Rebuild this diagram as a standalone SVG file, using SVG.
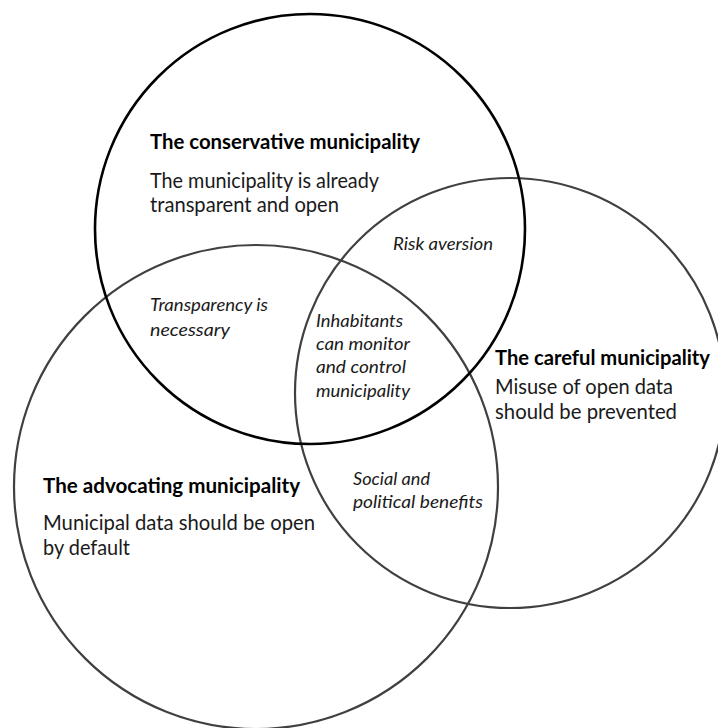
<svg xmlns="http://www.w3.org/2000/svg" width="718" height="728" viewBox="0 0 718 728">
<style>
.c{fill:none;stroke:#404040;stroke-width:2.2}
.ct{fill:none;stroke:#000;stroke-width:2.6}
.b{font-family:Lato,"Open Sans","Liberation Sans",sans-serif;font-weight:700;font-size:20px;fill:#000}
.n{font-family:Lato,"Open Sans","Liberation Sans",sans-serif;font-weight:400;font-size:21px;fill:#1a1a1a}
.i{font-family:Lato,"Open Sans","Liberation Sans",sans-serif;font-style:italic;font-size:18px;fill:#1a1a1a}
</style>
<rect width="718" height="728" fill="#fff"/>
<g id="circles">
<circle id="left-circle" class="c" cx="256" cy="487" r="242"/>
<circle id="right-circle" class="c" cx="510" cy="393" r="215"/>
<circle id="top-circle" class="ct" cx="310" cy="229" r="215"/>
</g>
<g id="conservative">
<text class="b" x="150" y="149" textLength="270" lengthAdjust="spacingAndGlyphs">The conservative municipality</text>
<text class="n" x="150" y="188" textLength="229" lengthAdjust="spacingAndGlyphs">The municipality is already</text>
<text class="n" x="150" y="212" textLength="189" lengthAdjust="spacingAndGlyphs">transparent and open</text>
</g>
<g id="careful">
<text class="b" x="495" y="365" textLength="215" lengthAdjust="spacingAndGlyphs">The careful municipality</text>
<text class="n" x="495" y="394" textLength="178" lengthAdjust="spacingAndGlyphs">Misuse of open data</text>
<text class="n" x="495" y="419" textLength="182" lengthAdjust="spacingAndGlyphs">should be prevented</text>
</g>
<g id="advocating">
<text class="b" x="43" y="493" textLength="257" lengthAdjust="spacingAndGlyphs">The advocating municipality</text>
<text class="n" x="43" y="530" textLength="272" lengthAdjust="spacingAndGlyphs">Municipal data should be open</text>
<text class="n" x="43" y="555" textLength="87" lengthAdjust="spacingAndGlyphs">by default</text>
</g>
<g id="risk">
<text class="i" x="393" y="250" textLength="100" lengthAdjust="spacingAndGlyphs">Risk aversion</text>
</g>
<g id="transparency">
<text class="i" x="150" y="311" textLength="118" lengthAdjust="spacingAndGlyphs">Transparency is</text>
<text class="i" x="150" y="336" textLength="80" lengthAdjust="spacingAndGlyphs">necessary</text>
</g>
<g id="inhabitants">
<text class="i" x="316" y="327" textLength="87" lengthAdjust="spacingAndGlyphs">Inhabitants</text>
<text class="i" x="316" y="350" textLength="94" lengthAdjust="spacingAndGlyphs">can monitor</text>
<text class="i" x="316" y="373" textLength="90" lengthAdjust="spacingAndGlyphs">and control</text>
<text class="i" x="316" y="397" textLength="94" lengthAdjust="spacingAndGlyphs">municipality</text>
</g>
<g id="social">
<text class="i" x="353" y="485" textLength="77" lengthAdjust="spacingAndGlyphs">Social and</text>
<text class="i" x="353" y="508" textLength="130" lengthAdjust="spacingAndGlyphs">political benefits</text>
</g>
</svg>
